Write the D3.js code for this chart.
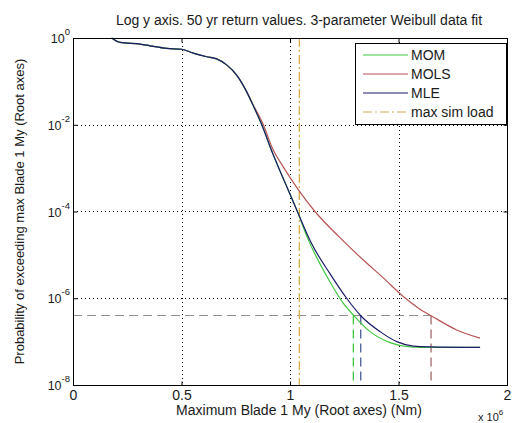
<!DOCTYPE html>
<html>
<head>
<meta charset="utf-8">
<script src="https://cdn.jsdelivr.net/npm/d3@7"></script>
<style>
  html, body { margin: 0; padding: 0; background: #fff; }
  svg { display: block; font-family: "Liberation Sans", Arial, Helvetica, sans-serif; }
</style>
</head>
<body>
<svg id="chart" width="512" height="423"></svg>
<script>
// ---- data (x in units of 1e6 Nm, y = exceedance probability) ----
const seriesNames = ["MOM", "MOLS", "MLE"];
const mleX = [0.178, 0.217, 0.309, 0.355, 0.432, 0.501, 0.554, 0.616, 0.662, 0.708, 0.754, 0.770, 0.800, 0.830, 0.870, 0.920, 0.970, 1.034, 1.100, 1.184, 1.261, 1.327, 1.415, 1.492, 1.568, 1.645, 1.876];
const mleY = [1.0, 0.79, 0.72, 0.66, 0.575, 0.55, 0.447, 0.37, 0.33, 0.24, 0.14, 0.107, 0.058, 0.028, 0.010, 2.2e-3, 5.6e-4, 1.0e-4, 1.8e-5, 3.7e-6, 1.0e-6, 3.9e-7, 1.7e-7, 1.0e-7, 7.9e-8, 7.6e-8, 7.4e-8];
const molsX = [0.178, 0.217, 0.309, 0.355, 0.432, 0.501, 0.554, 0.616, 0.662, 0.708, 0.754, 0.770, 0.800, 0.830, 0.877, 0.920, 0.969, 1.038, 1.115, 1.230, 1.338, 1.430, 1.522, 1.599, 1.660, 1.768, 1.876];
const molsY = [1.0, 0.79, 0.72, 0.66, 0.575, 0.55, 0.447, 0.37, 0.33, 0.24, 0.14, 0.107, 0.058, 0.029, 0.010, 2.8e-3, 1.07e-3, 3.2e-4, 1.0e-4, 2.5e-5, 7.6e-6, 2.95e-6, 1.1e-6, 5.6e-7, 3.7e-7, 1.86e-7, 1.2e-7];
const momX = [0.178, 0.217, 0.309, 0.355, 0.432, 0.501, 0.554, 0.616, 0.662, 0.708, 0.754, 0.770, 0.800, 0.830, 0.870, 0.920, 0.970, 1.034, 1.080, 1.184, 1.246, 1.292, 1.369, 1.461, 1.553, 1.645, 1.876];
const momY = [1.0, 0.79, 0.72, 0.66, 0.575, 0.55, 0.447, 0.37, 0.33, 0.24, 0.14, 0.107, 0.058, 0.028, 0.010, 2.2e-3, 5.6e-4, 1.0e-4, 2.5e-5, 2.4e-6, 7.6e-7, 4.1e-7, 1.7e-7, 9.5e-8, 7.6e-8, 7.4e-8, 7.4e-8];
const maxSimLoad = 1.043;
const returnProb = 4.0e-7;
const returnX = [1.292, 1.326, 1.650]; // MOM, MLE, MOLS crossings
const xTicks = [0, 0.5, 1, 1.5, 2];
const xTickLabels = ["0", "0.5", "1", "1.5", "2"];
const yTicks = [1, 1e-2, 1e-4, 1e-6, 1e-8];
const yTickExps = ["0", "-2", "-4", "-6", "-8"];
const xGrid = [0.5, 1, 1.5];
const yGrid = [1e-2, 1e-4, 1e-6];
const titleText = "Log y axis. 50 yr return values. 3-parameter Weibull data fit";
const xLabelText = "Maximum Blade 1 My (Root axes) (Nm)";
const yLabelText = "Probability of exceeding max Blade 1 My (Root axes)";
const legendLabels = ["MOM", "MOLS", "MLE", "max sim load"];

// ---- layout ----
const L = 73, R = 507, T = 38, B = 385;
const colMOM = "#3fc83f", colMOLS = "#b85454", colMLE = "#1c1c6a", colSim = "#d4ad4a";
const txt = "#1a1a1a";
const svg = d3.select("#chart");
const x = d3.scaleLinear().domain([0, 2]).range([L, R]);
const y = d3.scaleLog().domain([1e-8, 1]).range([B, T]);

// grid
const g = svg.append("g");
g.selectAll(".gx").data(xGrid).join("line")
  .attr("x1", d => Math.round(x(d)) + 0.5).attr("x2", d => Math.round(x(d)) + 0.5).attr("y1", T).attr("y2", B)
  .attr("stroke", "#000").attr("stroke-width", 1).attr("stroke-dasharray", "1,3");
g.selectAll(".gy").data(yGrid).join("line")
  .attr("x1", L).attr("x2", R).attr("y1", d => Math.round(y(d)) + 0.5).attr("y2", d => Math.round(y(d)) + 0.5)
  .attr("stroke", "#000").attr("stroke-width", 1).attr("stroke-dasharray", "1,3");

// return-value reference lines
g.append("line").attr("x1", x(0)).attr("x2", x(returnX[2])).attr("y1", y(returnProb)).attr("y2", y(returnProb))
  .attr("stroke", "#8f8f8f").attr("stroke-width", 1.2).attr("stroke-dasharray", "9,5");
const vcols = ["#3fc83f", "#4a5a96", "#a06a6a"];
returnX.forEach((v, i) => {
  g.append("line").attr("x1", x(v)).attr("x2", x(v)).attr("y1", y(returnProb)).attr("y2", B)
    .attr("stroke", vcols[i]).attr("stroke-width", 1.3).attr("stroke-dasharray", "9,5");
});

// max sim load
g.append("line").attr("x1", x(maxSimLoad)).attr("x2", x(maxSimLoad)).attr("y1", T).attr("y2", B)
  .attr("stroke", colSim).attr("stroke-width", 1.3).attr("stroke-dasharray", "9,3,2,3");

// curves
const line = d3.line().x(d => x(d[0])).y(d => y(d[1])).curve(d3.curveMonotoneX);
const mk = (xs, ys) => xs.map((v, i) => [v, ys[i]]);
[[molsX, molsY, colMOLS], [momX, momY, colMOM], [mleX, mleY, colMLE]].forEach(([xs, ys, c]) => {
  g.append("path").datum(mk(xs, ys)).attr("d", line).attr("fill", "none")
    .attr("stroke", c).attr("stroke-width", 1.2);
});

// box
svg.append("rect").attr("x", L + 0.5).attr("y", T + 0.5).attr("width", R - L).attr("height", B - T)
  .attr("fill", "none").attr("stroke", "#000").attr("stroke-width", 1);

// ticks via axes (inward)
const axB = svg.append("g").attr("transform", `translate(0,${B + 0.5})`)
  .call(d3.axisBottom(x).tickValues(xTicks).tickSizeInner(-4).tickSizeOuter(0).tickPadding(4)
    .tickFormat((d, i) => xTickLabels[i]));
const axT = svg.append("g").attr("transform", `translate(0,${T + 0.5})`)
  .call(d3.axisTop(x).tickValues(xTicks).tickSizeInner(-4).tickSizeOuter(0).tickFormat(""));
const axL = svg.append("g").attr("transform", `translate(${L + 0.5},0)`)
  .call(d3.axisLeft(y).tickValues(yTicks).tickSizeInner(-4).tickSizeOuter(0).tickFormat(""));
const axR = svg.append("g").attr("transform", `translate(${R + 0.5},0)`)
  .call(d3.axisRight(y).tickValues(yTicks).tickSizeInner(-4).tickSizeOuter(0).tickFormat(""));
[axB, axT, axL, axR].forEach(a => { a.select(".domain").remove(); a.selectAll("line").attr("stroke", "#000"); });
axB.selectAll("text").attr("font-size", 14).attr("fill", txt)
  .attr("font-family", "Liberation Sans, Arial, sans-serif").attr("dy", null).attr("y", 14);

// y tick labels with superscripts
yTicks.forEach((v, i) => {
  const t = svg.append("text").attr("x", 70).attr("y", y(v) + 5).attr("text-anchor", "end")
    .attr("font-size", 12.5).attr("fill", txt);
  t.append("tspan").text("10");
  t.append("tspan").attr("dy", -8).attr("font-size", 9.5).text(yTickExps[i]);
});

// title and labels
svg.append("text").attr("x", 299).attr("y", 25).attr("text-anchor", "middle")
  .attr("font-size", 14).attr("fill", txt).text(titleText);
svg.append("text").attr("x", 299).attr("y", 415).attr("text-anchor", "middle")
  .attr("font-size", 14).attr("fill", txt).text(xLabelText);
svg.append("text").attr("transform", `translate(24,${(T + B) / 2}) rotate(-90)`).attr("text-anchor", "middle")
  .attr("font-size", 13).attr("fill", txt).text(yLabelText);
const ex = svg.append("text").attr("x", 478).attr("y", 421).attr("font-size", 11).attr("fill", txt);
ex.append("tspan").text("x 10");
ex.append("tspan").attr("dy", -6).attr("font-size", 8).text("6");

// legend
const lg = svg.append("g");
lg.append("rect").attr("x", 355.5).attr("y", 43.5).attr("width", 151).attr("height", 81)
  .attr("fill", "#fff").attr("stroke", "#000");
const lcols = [colMOM, colMOLS, colMLE, colSim];
const ldash = [null, null, null, "9,3,2,3"];
legendLabels.forEach((lab, i) => {
  const cy = 55 + i * 19;
  lg.append("line").attr("x1", 363).attr("x2", 408).attr("y1", cy).attr("y2", cy)
    .attr("stroke", lcols[i]).attr("stroke-width", 1.2).attr("stroke-dasharray", ldash[i]);
  lg.append("text").attr("x", 411).attr("y", cy + 5).attr("font-size", 14).attr("fill", txt).text(lab);
});
</script>
</body>
</html>
